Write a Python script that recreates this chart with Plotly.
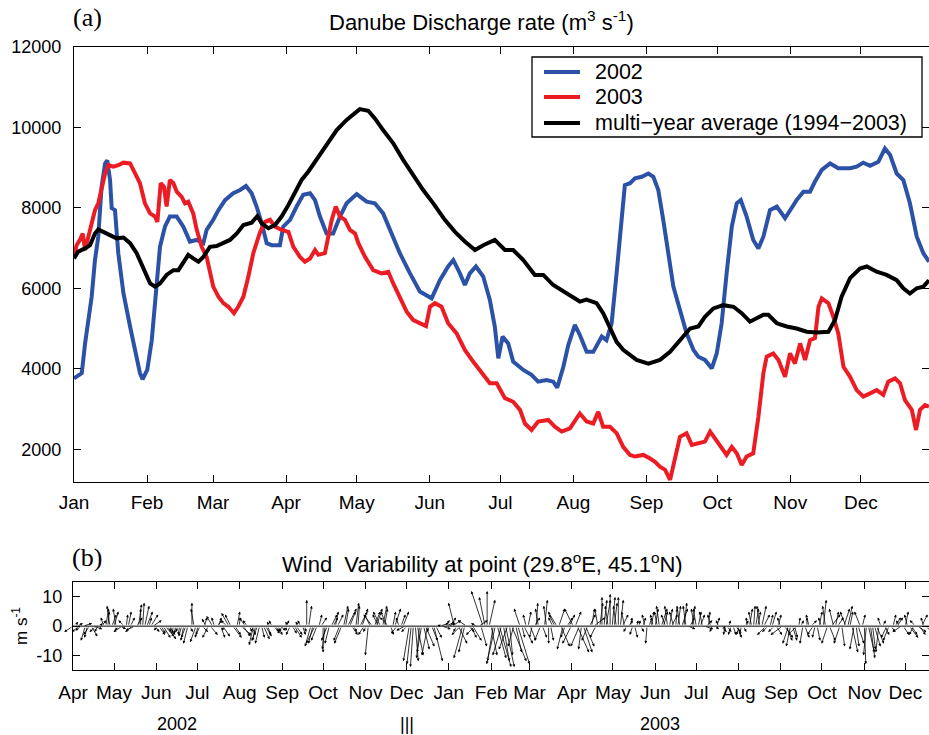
import plotly.graph_objects as go

# ---------------- data: Danube discharge (day of year, m3/s) ----------------
blue_day = [0, 3.3, 4.7, 7.5, 8.9, 10.3, 11.7, 13.2, 14.1, 15.3, 16, 17.4, 18.8, 21, 23.8, 26.6, 28, 29.1,
            31.1, 33, 34.8, 36.5, 38.6, 40.7, 43.6, 46.4, 49.2, 52.1, 54.9, 56.3, 59.1, 61.3, 64.1, 67.6,
            70.5, 73, 75.4, 77.5, 79.7, 81.8, 83.9, 87.4, 88.8, 91.7, 94.5, 97.3, 100.2, 102.3, 104.4,
            107.2, 110, 112.9, 115.7, 119.3, 120, 124.2, 127.7, 131.2, 134.8, 138.3, 142.6, 146.8, 151.8,
            155.3, 158.8, 161, 163.8, 165.9, 168, 170.6, 173.7, 176.5, 178.6, 180.1, 181.9, 184.3, 186.4,
            190.7, 194.2, 197, 200.6, 203.4, 205.1, 207.7, 209.8, 212.6, 214.7, 217.6, 220.4, 224, 226,
            228.2, 230.3, 232.4, 233.8, 236, 238.1, 241, 243.8, 245.9, 248, 250.1, 252.3, 254.4, 257.2,
            260, 262.9, 265, 267.8, 270.7, 272.8, 274.9, 277, 279.2, 281.3, 283, 285.5, 288.3, 290.5,
            292.6, 295.4, 298.3, 301.8, 303.9, 306.7, 309.6, 312.4, 314.5, 317.4, 320.9, 324.4, 329.4,
            332.2, 335, 337.9, 341.4, 344.2, 346.4, 349.2, 352, 354.8, 357.7, 360.5, 362.9]
blue_val = [3760, 3890, 4630, 5790, 6700, 7280, 8520, 9100, 9180, 8690, 7990, 7940, 6870, 5870, 5050, 4300, 3890, 3740,
            3970, 4710, 5790, 7030, 7530, 7780, 7780, 7530, 7160, 7200, 7120, 7450, 7700, 7940, 8190, 8360,
            8440, 8540, 8360, 8030, 7610, 7120, 7070, 7070, 7530, 7700, 8030, 8320, 8360, 8190, 7780,
            7360, 7360, 7780, 8110, 8320, 8340, 8150, 8110, 7860, 7360, 6870, 6370, 5920, 5750,
            6200, 6540, 6700, 6370, 6080, 6370, 6540, 6290, 5710, 5050, 4260, 4800, 4630, 4180,
            3970, 3850, 3680, 3720, 3680, 3530, 4050, 4590, 5090, 4840, 4420, 4420, 4800, 4710,
            5130, 6370, 7700, 8560, 8610, 8730, 8770, 8850, 8770, 8440, 7700, 6870, 6040, 5460,
            4880, 4470, 4300, 4220, 4010, 4380, 5130, 6370, 7530, 8110, 8190, 7780, 7200, 6990,
            7280, 7940, 8030, 7740, 7940, 8190, 8400, 8400, 8650, 8940, 9100, 8980, 8980,
            9020, 9120, 9040, 9140, 9470, 9310, 8850, 8690, 8110, 7280, 6870, 6660]

red_day = [0, 1.1, 2.5, 3.7, 4.7, 6.1, 7.5, 8.9, 10.3, 11.7, 13.2, 14.6, 16.7, 18.8, 21, 23.8, 25.9, 28, 30.1,
           32.3, 34.4, 35.4, 36.8, 38.2, 39.3, 40.7, 42.2, 43.6, 45.7, 47.1, 48.5, 50.6, 52.1, 54.2, 56.3,
           57.7, 59.1, 61.3, 63.4, 65.5, 67.9, 69.7, 71.9, 74, 76.1, 79, 81.1, 83.2, 85.3, 88.1, 91, 93.1,
           95.9, 98, 100.2, 102.3, 103.7, 106.5, 108, 109.4, 111.1, 112.9, 115, 117.1, 119.3, 120.7, 123.5,
           127, 130.5, 133.4, 135.5, 138.3, 141.2, 144, 146.8, 149.4, 151.1, 153.2, 156, 158.8, 162.4,
           165.9, 169.4, 173, 176.5, 179.4, 182.9, 186.4, 189.3, 191.4, 194.2, 197, 201.3, 204.1, 207,
           210.5, 214.7, 217.6, 220.4, 222.5, 224.6, 227.5, 230.3, 233.1, 236, 238.1, 241.7, 244.5, 246.6,
           248.7, 250.9, 253, 255.1, 257.2, 260, 262.2, 265, 267.8, 270, 272.1, 274.2, 277, 279.2, 281.3,
           283.4, 285.5, 288.3, 290.5, 292.6, 294, 296.8, 299, 301.8, 303.9, 306, 308.2, 310.3, 312.4,
           314.5, 316, 317.4, 320.2, 322.3, 324.4, 326.6, 329.4, 332.2, 335, 337.9, 340.7, 343.5, 345.6,
           348.5, 350.6, 352.7, 355.6, 357.4, 359.1, 361.2, 362.9]
red_val = [6780, 7070, 7200, 7360, 6950, 7280, 7700, 7940, 8110, 8520, 8850, 9060, 9020, 9060, 9120, 9100, 8850, 8610, 8110,
           7860, 7780, 7650, 8610, 8520, 8030, 8690, 8610, 8400, 8270, 8110, 8150, 7860, 7450, 7030, 6780,
           6450, 6040, 5790, 5630, 5540, 5380, 5540, 5790, 6290, 6870, 7400, 7650, 7700, 7530, 7450, 7400, 7030,
           6780, 6660, 6740, 6950, 6830, 6870, 7280, 7700, 8030, 7780, 7700, 7450, 7360, 7120, 6780,
           6450, 6370, 6410, 6120, 5790, 5420, 5210, 5130, 5060, 5540, 5630, 5540, 5130, 4880,
           4470, 4180, 3890, 3640, 3640, 3270, 3180, 2980, 2640, 2480, 2690, 2730, 2560, 2440,
           2520, 2890, 2690, 2640, 2930, 2560, 2560, 2400, 2060, 1860, 1820, 1860, 1770, 1690,
           1570, 1490, 1240, 1730, 2310, 2400, 2110, 2150, 2190, 2440, 2270, 2110, 1860, 2060, 1900,
           1610, 1820, 1900, 2810, 3890, 4300, 4380, 4220, 3800, 4380, 4130, 4630, 4220, 4710,
           4760, 5540, 5750, 5630, 5290, 4880, 4050, 3800, 3470, 3310, 3390, 3470, 3350, 3680,
           3760, 3640, 3220, 2980, 2480, 2980, 3100, 3060]

avg_day = [0, 1.8, 4.7, 6.8, 8.9, 10.3, 12.4, 15.3, 18.1, 21, 23.8, 26.6, 29.4, 32.3, 34.4, 36.5, 39.3, 42.2,
           44.3, 46.4, 48.5, 50.6, 52.8, 54.9, 57.7, 60.5, 63.4, 66.2, 69.1, 71.9, 75.4, 77.8, 79.7, 82.5,
           85.3, 88.1, 91, 93.8, 96.6, 99.5, 102.3, 105.1, 108, 111.5, 115.7, 118, 121.3, 124.9, 127.7,
           131.2, 135.5, 139.7, 144, 148.2, 152.5, 157.4, 161.7, 165.9, 170.2, 173.7, 178.6, 182.9, 186.4,
           190.7, 195.6, 199.2, 203.4, 207.7, 211.9, 214.7, 217.5, 221.8, 224.6, 227.5, 230.3, 233.1, 236,
           238.8, 243.8, 248.7, 253, 257.2, 261.5, 265, 267.8, 271.4, 275.6, 279.9, 283.4, 286.9, 289.8,
           292.6, 294.7, 298.3, 302.5, 306.7, 311, 315.2, 320.2, 323, 325.8, 329.4, 333.6, 336.5, 340.7,
           344.9, 349.2, 352, 354.8, 357.7, 360.5, 362.9]
avg_val = [6740, 6910, 6990, 7070, 7360, 7460, 7400, 7320, 7240, 7260, 7120, 6870, 6490, 6120, 6040, 6120, 6330, 6450,
           6450, 6620, 6830, 6740, 6660, 6780, 7030, 7050, 7120, 7200, 7360, 7570, 7630, 7790, 7610, 7490,
           7570, 7780, 8070, 8400, 8690, 8900, 9140, 9350, 9600, 9930, 10180, 10300, 10450, 10410, 10220,
           9930, 9600, 9190, 8810, 8440, 8110, 7700, 7400, 7160, 6950, 7070, 7200, 6950, 6950,
           6700, 6330, 6330, 6080, 5920, 5750, 5670, 5720, 5630, 5380, 5000, 4670, 4470, 4340,
           4220, 4130, 4220, 4420, 4710, 5000, 5050, 5290, 5500, 5580, 5540, 5380, 5170, 5250,
           5340, 5340, 5130, 5050, 5000, 4920, 4900, 4920, 5210, 5790, 6250, 6490, 6540, 6410,
           6330, 6200, 6000, 5870, 6000, 6040, 6200]

top_month_start = [0, 31, 59, 90, 120, 151, 181, 212, 243, 273, 304, 334]
top_month_label = ["Jan", "Feb", "Mar", "Apr", "May", "Jun", "Jul", "Aug", "Sep", "Oct", "Nov", "Dec"]
top_yticks = [2000, 4000, 6000, 8000, 10000, 12000]
top_ylabels = ["2000", "4000", "6000", "8000", "10000", "12000"]

series_names = ["2002", "2003", "multi\u2212year average (1994\u22122003)"]
series_colors = ["#2b52a6", "#ec1c24", "#000000"]

# ---------------- data: wind sticks (days from 1 Apr 2002, m/s) ----------------
# samples at whole 3-day steps
wind_u = [-3, 2, -2, -1.5, -2, 3, -1, 1.5, 1, -1,
          1.5, -1, -3, 0.5, 1.5, -3, 1, 0.5, 2, 2.5, 1.5,
          2, 2.5, 3, -0.5, -0.3, -0.5, -1, -1.5, 0,
          -2, -1.5, 1, -2, -2, 2, 1.5, -1, -2.5, 3, 1,
          3.5, -2, 1, -1.5, -2, 1, 2, -1, 2, 1.5,
          -1, 1, -1.5, 2.5, -1, 1, 0, -2, -3, 1,
          0, -2, 2, 1, -2, 1.5, 3, 2, 1, 2.5, -2,
          -1, -3, 2, -2.5, 1, -3, 1, -2, 1.5, -3,
          -2, -1, 2, -1.5, 3, -1, 3, 1, 3, 3,
          2, -2, 3, -3, -3, 2, -3, 3, -4, 0,
          2, -3, 4, 2, -3, 5, 2, -2, 3, 1,
          -1, 0.5, -2, 1, 0, -1.5, -3, 3, -1.5, 2,
          -3, 4, -1, 3, 2, 4, -1, 0, 1.5, 0,
          1, 0, 2, -1, 0.5, 1, 0.5, 1, -0.5, 1,
          1, -1, 1.5, -1, 2, 0.5, -1, 1, 2.5, 1,
          -1, 1.5, 3, 0.5, -1, 1, 2, -0.5, 0.5, 1, 1.5,
          -0.5, 1, 1, 0.5, 1, 1.5, -3, 1, -2, 1,
          -4, 2, -1.5, 1, 0.5, -1, 0, 2, -1, 1,
          1, -2, 3, 1, -2, 2, 1.5, 2, 1, -2,
          0.5, 2, 1, 2.5, -1, 1.5, -2, 1, 2, -3,
          1, 3, -1.5, 3, 2, 3]
wind_v = [-2, 1, -1.5, -5, -3, -1, -2, 2, 6, 7,
          5, -1.5, -2, 4, 3, -1.5, 7.5, 8, 5, 4, -2,
          -3, -4, -4.5, -2, -2.5, -3, -5, -6, 8,
          -5.5, -3, 3, -4, 3.5, 2, -4, -1.5, 4.5, -4, 5,
          -3, 3, -2, -6.5, -5, -4, -3.5, 1.5, -2.5, -3,
          -2, 2, -3, -4, 1.5, -3, 9, -7, -6, 4,
          -9, -5, 4, 5, -5, 7, 6, -3, 8, 5, -3,
          -10, 4, 6, 5, 6, 3, 5, -2.5, 4, -1.5,
          -12, -14, -10, -9, -7, -2, -12, 0.5, -1, 1.5,
          3, 8, -6, -11, 2, -4, -3, 2, 12, 12,
          -10, -13, -14, -12, -8, -12, -9, 6, -6, 5,
          -4, 8, -5, 9, -6, 3, 5, -7, -4, 4,
          6, -9, -8, -7, 4, 3, 6, 10, 9, 11,
          8, 10, 4, -2, 3, -4, 2, 3, -6, 5,
          6, 7, 5, 7, 4, 6, 7, 8, -1, 7,
          6, 4, -1, 5, -2, 3, -2, -3, 2, -3, -4,
          -3, 2, 6, 7, 5, 7, -3, 4, -2, 4,
          -3, -5, -7, -4, 3, -6, 3, 2, -4, 5,
          9, -6, 4, 5, -6, 6, 7, -9, -7, 5,
          -13, -9, -8, -6, 3, -3, -5, 4, 3, -2,
          5, -4, -3, -2, 4, -3]
# samples half-way between them
wind_u_mid = [1, -2.5, 3, -1, 2, -2, 1, -1, 0.5, 1.5,
              -1, 2, -2, 1, -2.5, 2, 0, 1.5, 1, 3, -1,
              1.5, 3, 2, -0.5, -0.5, -1, -1.5, 1, -1,
              -1, 2, -1.5, 2.5, -1, 1, 2.5, -2, -2, 2, 0.5,
              2.5, -1.5, 1.5, -1, -1.5, 2, 1, -1, 1, 2,
              1, -1, 1.5, 2, -1, 0.5, 1, -1.5, -2, 2,
              -1, -1.5, 1.5, 2, -2.5, 1, 2, 1, 0.5, 2, -1,
              -2, 2, -2, 1.5, -2, 1, 2, -1, 2, -2,
              -1.5, 1, -1, 2, -2, 2, 2, 3, 2, 2.5,
              3, -1, -3, -2, 2, 3, -2, 2, -2, 2,
              -2, 3, -3, 3, 1, -2, 4, 1, -1, 2,
              2, -1, 1.5, -1, 1, -2, 2, -2, 2, -3,
              2, -3, 3, -2, 1, -2, 1, 1, -1, 1,
              -1, 1, -1, 1.5, -1, 0.5, 1, -1, 1, -1,
              -1, 2, -1.5, 1, -1.5, 1, 2, -1, 1.5, -1,
              1, -1, 2, -1, 1.5, -1, 1, 1.5, -1, 2, -1,
              1, -0.5, -1, 1, -1, 2, -2, 1.5, 2, -1,
              3, -2, 1.5, -3, 1, 1.5, -1, -2, 1, -1,
              -1, 2, -1.5, 2, 1, -2, 1, -1.5, 2, 1,
              -1, 1.5, 2, -1, 1, -2, 1.5, 2, -1, 2,
              -1, 2, -2, 2, -1, 2]
wind_v_mid = [1.5, -2, 1, -4, -3.5, -2, 1, 3, 5, 4,
              6, -1, 2, 5, -2, 3, 6, 7, 3, 2, -1.5,
              -2.5, -3.5, -3, -2.5, -2, -3.5, -4, -2, 6,
              -4, -2, 2.5, -3, 3, 3, -3.5, 2, 4, -3, 3,
              -3.5, 2, -3, -5, -6, -4.5, -3, 2, -2, -1.5,
              -1.5, 1.5, -2.5, -3, 2, -2, 7, -6, -5, 3,
              -8, -6, 3, 4, -6, 6, 5, -2, 7, 6, -2,
              4, 5, 4, 7, 5, -3, 6, 3, 5, -2,
              -13, -12, -11, -8, -10, -5, -4, 1, 2, 1,
              2, -2, -3, -9, -2, -5, 1, -7, 10, 9,
              -12, -11, -10, -14, -10, -7, -13, -4, 4, -5,
              3, 6, -4, 7, -5, 4, 6, -8, 3, -6,
              5, -7, -9, -5, 6, -4, 8, 9, 7, 10,
              7, 9, 5, 2, -3, 2, -2, 4, 3, 4,
              5, 6, 4, 6, 5, 7, 6, 7, 3, 6,
              5, 5, 2, 4, -1, 2, -1, -2, -3, -2, -3,
              -2, 3, 5, 6, 7, 4, -2, 5, -3, 3,
              -4, -6, -5, -3, 2, -4, 4, -3, -5, 3,
              7, -5, 6, 3, -7, 5, 5, -8, -6, 4,
              -10, -11, -7, -9, 2, -4, -2, 3, 2, -3,
              4, -3, 2, -3, 3, -2]
wind_day = list(range(0, 3 * len(wind_u), 3))
wind_day_mid = [d + 1.5 for d in wind_day]

bot_month_start = [0, 30, 61, 91, 122, 153, 183, 214, 244, 275, 306, 334, 365, 395, 426, 456, 487, 518, 548, 579, 609]
bot_month_label = ["Apr", "May", "Jun", "Jul", "Aug", "Sep", "Oct", "Nov", "Dec", "Jan", "Feb", "Mar",
                   "Apr", "May", "Jun", "Jul", "Aug", "Sep", "Oct", "Nov", "Dec"]

# ---------------- layout geometry (pixels of the 929x735 page) ----------------
W, H = 929, 735
FONT = "Liberation Sans, Arial, Helvetica, sans-serif"
SERIF = "Liberation Serif, Times New Roman, serif"


def px(x, y):
    return x / W, 1 - y / H


top_x0, top_x1, top_y0, top_y1 = 74, 929, 46.7, 481.7
bot_x0, bot_x1, bot_y0, bot_y1 = 73, 929, 582.3, 670
top_xrange = [0, 362.9]
top_yrange = [1195, 12000]
bot_xrange = [0, 626.3]
bot_yrange = [-15, 15]

fig = go.Figure()
for xs, ys, nm, col in zip([blue_day, red_day, avg_day], [blue_val, red_val, avg_val],
                           series_names, series_colors):
    fig.add_trace(go.Scatter(x=xs, y=ys, mode="lines", name=nm,
                             line=dict(color=col, width=4), showlegend=False))
# zero line of the wind panel (also carries the second axes)
fig.add_trace(go.Scatter(x=bot_xrange, y=[0, 0], mode="lines",
                         line=dict(color="black", width=1), xaxis="x2", yaxis="y2",
                         showlegend=False, hoverinfo="skip"))

axis_common = dict(showline=True, linecolor="black", linewidth=1.2, mirror="allticks",
                   ticks="inside", tickcolor="black", ticklen=7, tickwidth=1,
                   showgrid=False, zeroline=False, automargin=False)

fig.update_layout(
    template="none",
    width=W, height=H,
    margin=dict(l=0, r=0, t=0, b=0, pad=0),
    paper_bgcolor="white", plot_bgcolor="white",
    showlegend=False,
    xaxis=dict(domain=[top_x0 / W, top_x1 / W], range=top_xrange, anchor="y",
               tickmode="array", tickvals=top_month_start, ticktext=top_month_label,
               ticklabelstandoff=3, tickfont=dict(family=FONT, size=19, color="black"), **axis_common),
    yaxis=dict(domain=[1 - top_y1 / H, 1 - top_y0 / H], range=top_yrange, anchor="x",
               tickmode="array", tickvals=top_yticks, ticktext=top_ylabels,
               ticklabelstandoff=8, tickfont=dict(family=FONT, size=18, color="black"), **axis_common),
    xaxis2=dict(domain=[bot_x0 / W, bot_x1 / W], range=bot_xrange, anchor="y2",
                tickmode="array", tickvals=bot_month_start, ticktext=bot_month_label,
                ticklabelstandoff=5, tickfont=dict(family=FONT, size=19, color="black"), **axis_common),
    yaxis2=dict(domain=[1 - bot_y1 / H, 1 - bot_y0 / H], range=bot_yrange, anchor="x2",
                tickmode="array", tickvals=[-10, 0, 10], ticktext=["-10", "0", "10"],
                ticklabelstandoff=6, tickfont=dict(family=FONT, size=18, color="black"), **axis_common),
)

# ---------------- wind sticks as arrows on axis 2 ----------------
px_per_unit_y = (bot_y1 - bot_y0) / (bot_yrange[1] - bot_yrange[0])
px_per_day = (bot_x1 - bot_x0) / (bot_xrange[1] - bot_xrange[0])
k = px_per_unit_y / px_per_day  # days per (m/s) so sticks keep true direction
anns = []
for d, u, v in list(zip(wind_day, wind_u, wind_v)) + list(zip(wind_day_mid, wind_u_mid, wind_v_mid)):
    anns.append(dict(x=d + u * k, y=v, ax=d, ay=0, xref="x2", yref="y2", axref="x2", ayref="y2",
                     showarrow=True, arrowhead=2, arrowsize=0.7, arrowwidth=0.8,
                     arrowcolor="black", text="", standoff=0, startstandoff=0))


def txt(text, x, y, size, family=FONT, angle=0, anchor="center"):
    xx, yy = px(x, y)
    return dict(text=text, x=xx, y=yy, xref="paper", yref="paper", showarrow=False,
                xanchor=anchor, yanchor="middle", textangle=angle,
                font=dict(family=family, size=size, color="black"))


anns += [
    txt("(a)", 87, 18, 26, SERIF),
    txt("Danube Discharge rate (m<sup>3</sup> s<sup>-1</sup>)", 481, 21, 22),
    txt("(b)", 87, 557, 26, SERIF),
    txt("Wind  Variability at point (29.8<sup>o</sup>E, 45.1<sup>o</sup>N)", 482, 563, 22),
    txt("m s<sup>-1</sup>", 20, 626, 17, FONT, -90),
    txt("2002", 177, 724, 18),
    txt("|||", 407, 724, 18),
    txt("2003", 660, 724, 18),
]

# ---------------- legend box (drawn in page pixels) ----------------
leg_box = (532, 57, 922, 137)
leg_rows = [72, 97, 123]
shapes = [dict(type="rect", xref="paper", yref="paper",
               x0=leg_box[0] / W, x1=leg_box[2] / W, y0=1 - leg_box[3] / H, y1=1 - leg_box[1] / H,
               line=dict(color="black", width=1.3), fillcolor="white", layer="above")]
for row_y, nm, col in zip(leg_rows, series_names, series_colors):
    shapes.append(dict(type="line", xref="paper", yref="paper",
                       x0=544 / W, x1=580 / W, y0=1 - row_y / H, y1=1 - row_y / H,
                       line=dict(color=col, width=4), layer="above"))
    anns.append(txt(nm, 593, row_y, 21.5, FONT, 0, "left"))

fig.update_layout(annotations=anns, shapes=shapes)

fig.write_html("out.html")
